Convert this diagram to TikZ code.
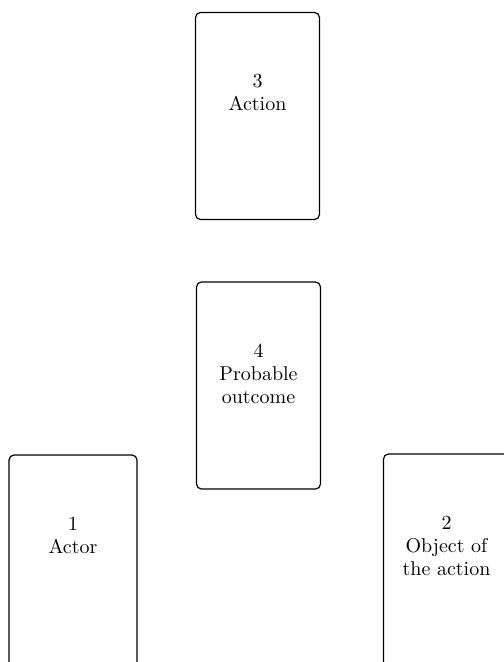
\documentclass[tikz,border=0pt]{standalone}

\begin{document}
\begin{tikzpicture}[x=0.5pt,y=-0.5pt,
	card/.style={draw,rectangle,rounded corners=2.5pt,line width=0.6pt,minimum width=62pt,minimum height=103.5pt,inner sep=0pt},
	cardtext/.style={anchor=north,inner sep=0pt,align=center,font=\fontsize{10}{11.5}\selectfont}]
		\useasboundingbox (0,0) rectangle (503,662);

		\node[card] (action) at (257.5,116){};
		\node[cardtext] (t3) at ([yshift=-31pt]action.north){3\\Action};

		\node[card] (outcome) at (258.5,385.5){};
		\node[cardtext] (t4) at ([yshift=-31pt]outcome.north){4\\Probable\\outcome};

		% the two lower cards run past the page edge
		\node[card,minimum width=64pt,minimum height=106.5pt] (actor) at (73,561.5){};
		\node[cardtext] (t1) at ([yshift=-31pt]actor.north){1\\Actor};

		\node[card,minimum width=63pt,minimum height=107pt] (object) at (446.5,561){};
		\node[cardtext] (t2) at ([yshift=-31pt]object.north){2\\Object of\\the action};
	\end{tikzpicture}
\end{document}
